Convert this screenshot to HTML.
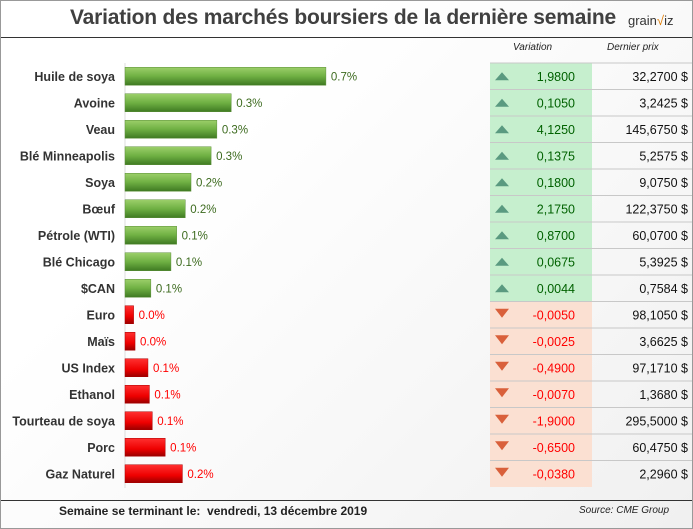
<!DOCTYPE html>
<html><head><meta charset="utf-8"><style>
body{margin:0;width:693px;height:529px;overflow:hidden;font-family:"Liberation Sans",sans-serif;background:#fff}
#frame{position:absolute;left:0;top:0;width:691px;height:527px;border:1px solid #999;background:linear-gradient(135deg,#fff 30%,#f0f0f0 100%)}
.t{position:absolute;white-space:nowrap}
</style></head><body>
<div id="frame"></div>
<div class="t" style="left:70px;top:6px;font-size:21px;font-weight:bold;color:#404040;letter-spacing:-0.2px">Variation des marchés boursiers de la dernière semaine</div>
<div class="t" style="left:628px;top:13px;font-size:13px;color:#333">grain<span style="color:#e07b00">√</span>iz</div>
<div style="position:absolute;left:1px;top:37px;width:691px;height:1px;background:#333"></div>
<div class="t" style="left:513px;top:42px;font-size:10px;font-style:italic;color:#222">Variation</div>
<div class="t" style="left:607px;top:42px;font-size:10px;font-style:italic;color:#222">Dernier prix</div>
<svg id="chart" width="693" height="529" style="position:absolute;left:0;top:0">
<defs>
<linearGradient id="gG" x1="0" y1="0" x2="0" y2="1"><stop offset="0" stop-color="#9ccf6a"/><stop offset="0.5" stop-color="#6fb043"/><stop offset="1" stop-color="#3f7a22"/></linearGradient>
<linearGradient id="gR" x1="0" y1="0" x2="0" y2="1"><stop offset="0" stop-color="#ff3030"/><stop offset="0.6" stop-color="#ee0000"/><stop offset="1" stop-color="#990000"/></linearGradient>
</defs>
</svg>
<div style="position:absolute;left:1px;top:500px;width:691px;height:1px;background:#333"></div>
<div class="t" style="left:59px;top:504px;font-size:12px;font-weight:bold;color:#222">Semaine se terminant le:&nbsp; vendredi, 13 décembre 2019</div>
<div class="t" style="left:579px;top:505px;font-size:10px;font-style:italic;color:#222">Source: CME Group</div>
<script>
const categories=["Huile de soya","Avoine","Veau","Blé Minneapolis","Soya","Bœuf","Pétrole (WTI)","Blé Chicago","$CAN","Euro","Maïs","US Index","Ethanol","Tourteau de soya","Porc","Gaz Naturel"];
const pctValues=[0.70,0.37,0.32,0.30,0.23,0.21,0.18,0.16,0.09,0.03,0.035,0.08,0.085,0.095,0.14,0.20];
const pctLabels=["0.7%","0.3%","0.3%","0.3%","0.2%","0.2%","0.1%","0.1%","0.1%","0.0%","0.0%","0.1%","0.1%","0.1%","0.1%","0.2%"];
const direction=[1,1,1,1,1,1,1,1,1,-1,-1,-1,-1,-1,-1,-1];
const variations=["1,9800","0,1050","4,1250","0,1375","0,1800","2,1750","0,8700","0,0675","0,0044","-0,0050","-0,0025","-0,4900","-0,0070","-1,9000","-0,6500","-0,0380"];
const prices=["32,2700 $","3,2425 $","145,6750 $","5,2575 $","9,0750 $","122,3750 $","60,0700 $","5,3925 $","0,7584 $","98,1050 $","3,6625 $","97,1710 $","1,3680 $","295,5000 $","60,4750 $","2,2960 $"];
const NS="http://www.w3.org/2000/svg";
const svg=document.getElementById('chart');
const x0=125, pxPer=287;
const xScale=v=>v*pxPer;
const rowY=i=>63+i*26.5;
const mk=(t,a)=>{const e=document.createElementNS(NS,t);for(const k in a)e.setAttribute(k,a[k]);svg.appendChild(e);return e;};
const axis=mk('line',{x1:x0,x2:x0,y1:63,y2:488,stroke:'#ddd','stroke-width':1});


categories.forEach((c,i)=>{
  const y=rowY(i), cy=y+13.25, up=direction[i]>0;
  const lab=mk('text',{x:115,y:cy+4.5,'text-anchor':'end','font-size':12.5,'font-weight':'bold',fill:'#333','font-family':'Liberation Sans'});
  lab.textContent=c;
  
  
  const w=xScale(pctValues[i]);
  const bar=mk('rect',{x:x0,y:cy-9,width:w,height:18,fill:up?'url(#gG)':'url(#gR)',stroke:up?'#5c8f3a':'#a00','stroke-width':0.5});
  
  
  const vl=mk('text',{x:x0+w+5,y:cy+4,'font-size':11.5,fill:up?'#3d6b1f':'#ff0000','font-family':'Liberation Sans'});
  vl.textContent=pctLabels[i];
  
  
  const cell=mk('rect',{x:490,y:y,width:102,height:26.5,fill:up?'#c6efce':'#fbe0d2'});
  
  
  const tx=502;
  const tri=mk('polygon',{points:up?`${tx-7},${cy+4} ${tx+7},${cy+4} ${tx},${cy-4}`:`${tx-7},${cy-6} ${tx+7},${cy-6} ${tx},${cy+3}`,fill:up?'#5a9a80':'#d9603b'});
  
  
  const vt=mk('text',{x:575,y:cy+4.5,'text-anchor':'end','font-size':12.5,fill:up?'#006100':'#ff0000','font-family':'Liberation Sans'});
  vt.textContent=variations[i];
  
  
  const pt=mk('text',{x:688,y:cy+4.5,'text-anchor':'end','font-size':12.5,fill:'#111','font-family':'Liberation Sans'});
  pt.textContent=prices[i];
  
  
  const ln=mk('line',{x1:490,x2:692,y1:y,y2:y,stroke:'#c8c8c8','stroke-width':1});
  
  
});
</script>
</body></html>
